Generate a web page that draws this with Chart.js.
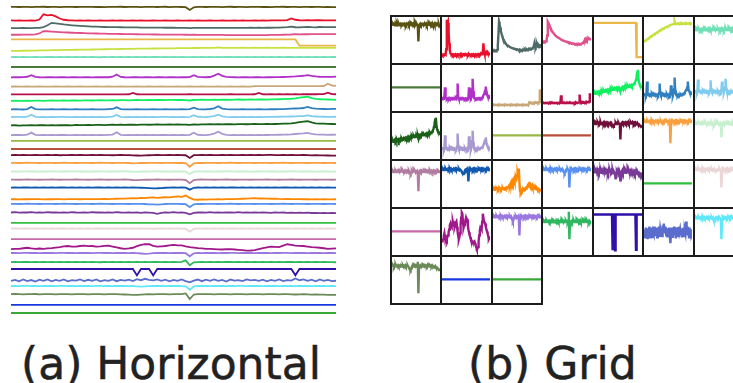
<!DOCTYPE html>
<html><head><meta charset="utf-8">
<script src="https://cdn.jsdelivr.net/npm/chart.js@4.4.0/dist/chart.umd.min.js"></script>
<style>
html,body{margin:0;padding:0;background:#fff;width:733px;height:383px;overflow:hidden;position:relative}
#horiz{position:absolute;left:6px;top:0}
.cell{position:absolute;box-sizing:border-box;border:2px solid #1c1c1c;width:52.5px;height:50px;background:#fff}
.cell canvas{display:block}
.cap{position:absolute;font-family:"DejaVu Sans";font-size:44px;line-height:44px;color:#222;white-space:nowrap;-webkit-text-stroke:0.5px #222}
</style></head><body>
<canvas id="horiz" width="335" height="320"></canvas>
<div id="grid"></div>
<div class="cap" style="left:21px;top:342px">(a) Horizontal</div>
<div class="cap" style="left:468px;top:342px">(b) Grid</div>
<script>
// ─── DATA (normalised 0..1, 81 samples unless flat) ─────────────────────────
const COLORS=['#5a5212','#e8102a','#4f6b66','#e0508a','#eab84a','#c8e040','#70e0b8','#4a7a3a',
  '#b030c8','#c8a878','#b8104a','#10f060','#3080c0','#80ccee','#1a6018','#a89ad0',
  '#98b848','#b8503a','#70103a','#f8a040','#c8f0d0','#b07ca0','#1058b0','#ff8800',
  '#5890f0','#7a3a98','#30c040','#ead6d6','#c868a8','#a0188a','#9a78e0','#30b860',
  '#3010a8','#5a6ccc','#60e8f8','#6a8a58','#1838e0','#38a838'];

const S0=[.88,.90,.87,.90,.89,.86,.90,.88,.91,.87, .89,.90,.86,.89,.90,.88,.87,.90,.89,.88,
  .90,.87,.88,.86,.90,.88,.89,.91,.87,.90, .88,.89,.86,.90,.88,.90,.87,.89,.91,.86,
  .88,.90,.87,.84,.45,.82,.88,.90,.87,.89, .90,.88,.86,.89,.91,.87,.88,.90,.86,.89,
  .88,.90,.87,.89,.86,.90,.88,.91,.87,.89, .90,.86,.88,.89,.87,.90,.88,.86,.89,.84, .86];
const S1=[.12,.10,.12,.11,.10,.12,.11,.25,1.0,.85, .92,.70,.40,.22,.15,.13,.11,.12,.10,.12,
  .11,.10,.12,.10,.11,.12,.10,.12,.11,.10, .12,.10,.13,.11,.10,.12,.11,.10,.12,.11,
  .10,.12,.11,.10,.13,.10,.12,.11,.10,.12, .11,.10,.12,.10,.11,.12,.10,.12,.11,.10,
  .12,.10,.12,.11,.13,.12,.14,.13,.18,.40, .22,.15,.13,.16,.14,.18,.15,.13,.14,.12, .12];
const S2=[.20,.21,.20,.22,.21,.20,.22,.24,.35,.60, .95,.88,.80,.72,.66,.60,.55,.51,.48,.45,
  .42,.40,.38,.36,.35,.34,.33,.32,.31,.30, .29,.29,.28,.28,.27,.27,.26,.26,.25,.25,
  .25,.24,.24,.24,.20,.24,.23,.23,.22,.23, .22,.23,.22,.24,.22,.23,.24,.22,.23,.25,
  .24,.25,.24,.26,.25,.27,.28,.30,.33,.40, .32,.30,.35,.38,.33,.31,.36,.34,.33,.35, .34];
const S3=[.42,.43,.42,.44,.43,.45,.47,.60,.95,.92, .88,.84,.80,.77,.74,.71,.69,.67,.65,.63,
  .61,.60,.58,.57,.56,.55,.54,.53,.52,.51, .50,.49,.48,.48,.47,.46,.46,.45,.45,.44,
  .44,.43,.43,.42,.40,.42,.41,.41,.40,.40, .40,.39,.39,.38,.38,.38,.37,.37,.38,.37,
  .37,.38,.37,.38,.39,.40,.41,.42,.44,.46, .50,.48,.52,.49,.51,.50,.52,.50,.51,.50, .50];
const S4=[.92,.92,.92,.92,.92,.92,.92,.92,.92,.92, .92,.92,.92,.92,.92,.92,.92,.92,.92,.92,
  .92,.92,.92,.92,.92,.92,.92,.92,.92,.92, .92,.92,.92,.92,.92,.92,.92,.92,.92,.92,
  .92,.92,.92,.92,.92,.92,.92,.92,.92,.92, .92,.92,.92,.92,.92,.92,.92,.92,.92,.92,
  .92,.92,.92,.92,.92,.92,.92,.92,.92,.92, .92,.05,.05,.05,.05,.05,.05,.05,.05,.05, .05];
const S5=[.45,.46,.47,.48,.49,.50,.51,.52,.53,.54, .56,.57,.58,.59,.60,.61,.62,.63,.64,.65,
  .66,.67,.68,.69,.70,.71,.72,.73,.74,.75, .76,.77,.77,.78,.79,.80,.80,.81,.82,.83,
  .83,.84,.85,.85,.86,.87,.87,.88,.88,.89, .89,.95,.90,.90,.89,.90,.90,.91,.90,.90,
  .91,.90,.90,.91,.90,.90,.90,.91,.90,.90, .90,.91,.90,.90,.90,.91,.90,.90,.91,.90, .90];
const S6=[.74,.76,.73,.77,.75,.74,.78,.75,.73,.76, .77,.74,.76,.75,.78,.74,.76,.73,.77,.75,
  .76,.74,.72,.77,.75,.78,.74,.76,.75,.77, .74,.78,.75,.76,.73,.77,.76,.74,.78,.75,
  .76,.73,.77,.75,.74,.78,.75,.76,.73,.77, .75,.78,.74,.76,.77,.74,.78,.75,.76,.73,
  .77,.75,.78,.74,.76,.75,.77,.74,.78,.76, .75,.77,.74,.78,.75,.76,.73,.77,.75,.78, .76];
const S7=[.5,.5];
const S8=[.20,.22,.21,.23,.28,.50,.26,.21,.20,.22, .21,.20,.23,.21,.20,.22,.21,.20,.22,.21,
  .20,.22,.21,.23,.21,.28,.60,.25,.21,.20, .22,.21,.20,.22,.21,.20,.22,.21,.20,.22,
  .21,.20,.22,.21,.23,.50,.26,.22,.21,.24, .45,.72,.40,.26,.22,.21,.20,.22,.21,.20,
  .22,.21,.20,.22,.21,.23,.22,.24,.26,.30, .33,.38,.42,.52,.40,.32,.28,.26,.25,.27, .30];
const S9=[.05,.06,.05,.05,.06,.05,.05,.06,.05,.05, .05,.06,.05,.05,.06,.05,.05,.06,.05,.05,
  .05,.06,.05,.05,.06,.05,.05,.06,.05,.05, .05,.06,.05,.05,.06,.05,.05,.06,.05,.05,
  .05,.06,.05,.05,.06,.05,.05,.06,.05,.05, .05,.06,.05,.05,.06,.05,.05,.06,.05,.05,
  .10,.11,.10,.11,.10,.11,.10,.11,.10,.11, .10,.11,.10,.11,.10,.12,.11,.13,.45,.20, .14];
const S10=[.10,.11,.10,.10,.11,.10,.10,.11,.10,.10, .11,.10,.10,.11,.10,.10,.11,.10,.10,.11,
  .10,.10,.11,.10,.10,.11,.10,.10,.11,.12, .30,.12,.10,.11,.10,.10,.11,.10,.10,.11,
  .10,.11,.10,.10,.12,.10,.11,.10,.10,.11, .10,.10,.11,.10,.12,.10,.11,.10,.10,.11,
  .12,.32,.12,.11,.12,.11,.12,.11,.12,.11, .12,.11,.12,.13,.12,.12,.13,.14,.35,.15, .12];
const S11=[.35,.37,.34,.36,.38,.35,.37,.39,.36,.38, .40,.37,.39,.41,.38,.40,.42,.39,.41,.43,
  .40,.42,.44,.41,.43,.45,.42,.44,.46,.43, .45,.47,.44,.46,.48,.45,.47,.49,.46,.48,
  .50,.47,.49,.46,.40,.47,.49,.51,.48,.50, .52,.49,.51,.53,.50,.52,.54,.51,.53,.55,
  .52,.54,.56,.53,.55,.57,.58,.60,.62,.65, .70,.80,.88,.95,.75,.62,.58,.55,.54,.52, .50];
const S12=[.30,.32,.31,.29,.35,.65,.34,.30,.31,.29, .32,.30,.31,.33,.30,.29,.32,.30,.31,.29,
  .32,.30,.31,.29,.33,.36,.60,.34,.30,.31, .29,.32,.30,.31,.29,.32,.30,.31,.33,.30,
  .31,.29,.32,.30,.33,.55,.34,.31,.30,.36, .45,.75,.42,.33,.30,.31,.29,.32,.30,.31,
  .29,.32,.30,.31,.33,.32,.34,.35,.37,.40, .43,.45,.50,.65,.48,.42,.38,.36,.35,.37, .38];
const S13=[.38,.40,.39,.37,.43,.70,.41,.38,.39,.37, .40,.38,.39,.41,.38,.37,.40,.38,.39,.37,
  .40,.38,.39,.37,.41,.44,.68,.41,.38,.39, .37,.40,.38,.39,.37,.40,.38,.39,.41,.38,
  .39,.37,.40,.38,.41,.65,.42,.39,.38,.44, .50,.72,.48,.41,.38,.39,.37,.40,.38,.39,
  .37,.40,.38,.39,.41,.40,.42,.43,.44,.46, .48,.50,.52,.62,.50,.46,.43,.42,.41,.40, .42];
const S14=[.35,.38,.34,.37,.36,.39,.35,.38,.40,.37, .39,.36,.40,.38,.41,.37,.42,.39,.41,.43,
  .40,.42,.44,.41,.43,.45,.42,.46,.43,.45, .47,.44,.46,.48,.45,.47,.49,.46,.48,.50,
  .47,.49,.46,.48,.42,.50,.48,.51,.49,.52, .50,.53,.51,.54,.52,.50,.53,.55,.52,.54,
  .56,.53,.55,.57,.54,.56,.58,.60,.62,.66, .72,.82,.90,.95,.78,.66,.62,.60,.58,.56, .55];
const S15=[.15,.17,.16,.14,.20,.50,.19,.15,.16,.14, .17,.15,.16,.18,.15,.14,.17,.15,.16,.14,
  .17,.15,.16,.14,.18,.21,.55,.19,.15,.16, .14,.17,.15,.16,.14,.17,.15,.16,.18,.15,
  .16,.14,.17,.15,.18,.48,.19,.16,.15,.22, .35,.62,.32,.18,.15,.16,.14,.17,.15,.16,
  .14,.17,.15,.16,.18,.17,.19,.20,.22,.25, .30,.35,.38,.45,.32,.26,.22,.20,.18,.19, .20];
const S16=[.5,.5];
const S17=[.5,.5];
const S18=[.80,.82,.79,.83,.81,.80,.84,.81,.79,.82, .80,.83,.78,.81,.80,.82,.79,.83,.80,.81,
  .83,.80,.82,.79,.81,.78,.80,.82,.79,.81, .76,.74,.72,.75,.78,.80,.82,.79,.81,.83,
  .80,.82,.79,.78,.40,.79,.81,.83,.80,.82, .79,.81,.83,.80,.82,.79,.81,.84,.80,.82,
  .81,.83,.80,.82,.84,.81,.79,.82,.80,.83, .81,.80,.82,.79,.77,.78,.76,.75,.74,.73, .72];
const S19=[.85,.87,.84,.86,.88,.85,.87,.84,.86,.85, .87,.84,.86,.88,.85,.87,.84,.86,.85,.87,
  .84,.86,.88,.85,.87,.84,.86,.85,.87,.84, .80,.82,.86,.84,.87,.85,.86,.84,.87,.85,
  .86,.84,.87,.82,.30,.80,.86,.84,.87,.85, .86,.84,.87,.85,.88,.86,.84,.87,.85,.86,
  .84,.87,.85,.86,.84,.87,.85,.88,.86,.84, .87,.85,.86,.84,.87,.85,.86,.84,.87,.85, .84];
const S20=[.80,.82,.79,.81,.83,.80,.82,.79,.81,.80, .83,.81,.79,.82,.80,.81,.83,.80,.82,.79,
  .81,.80,.83,.81,.79,.82,.80,.81,.83,.80, .78,.76,.80,.82,.79,.81,.83,.80,.82,.79,
  .81,.80,.82,.78,.45,.77,.81,.83,.80,.82, .79,.81,.80,.83,.81,.79,.82,.80,.81,.79,
  .82,.80,.81,.83,.80,.82,.79,.81,.80,.83, .81,.79,.82,.80,.81,.79,.82,.80,.81,.79, .80];
const S21=[.80,.82,.79,.81,.83,.80,.82,.79,.81,.80, .83,.81,.79,.82,.80,.81,.83,.80,.82,.79,
  .81,.80,.83,.81,.79,.82,.80,.81,.83,.80, .76,.74,.78,.82,.79,.81,.83,.80,.82,.79,
  .81,.80,.82,.76,.30,.75,.81,.83,.80,.82, .79,.81,.80,.83,.81,.79,.82,.80,.81,.79,
  .82,.80,.81,.83,.80,.82,.79,.81,.80,.83, .81,.79,.82,.80,.81,.79,.82,.80,.81,.79, .80];
const S22=[.85,.87,.84,.86,.88,.85,.87,.84,.86,.85, .87,.84,.86,.88,.85,.87,.84,.86,.85,.87,
  .84,.86,.88,.85,.87,.84,.86,.85,.87,.84, .86,.85,.82,.79,.76,.74,.75,.78,.82,.85,
  .86,.84,.87,.83,.55,.82,.86,.84,.87,.85, .86,.84,.87,.85,.88,.86,.84,.87,.85,.86,
  .84,.87,.85,.86,.84,.87,.85,.88,.86,.84, .87,.85,.86,.84,.87,.85,.86,.84,.87,.85, .84];
const S23=[.35,.36,.34,.37,.35,.36,.38,.36,.34,.37, .35,.38,.36,.34,.37,.36,.38,.35,.37,.36,
  .38,.36,.37,.39,.38,.40,.42,.45,.43,.48, .52,.48,.55,.50,.58,.62,.56,.60,.66,.62,
  .70,.75,.68,.88,.55,.30,.28,.32,.30,.34, .32,.35,.33,.36,.38,.36,.40,.42,.45,.48,
  .50,.46,.48,.44,.42,.45,.40,.38,.40,.37, .36,.38,.35,.37,.34,.36,.33,.35,.34,.33, .35];
const S24=[.85,.87,.84,.86,.88,.85,.87,.84,.86,.85, .87,.84,.86,.88,.85,.87,.84,.86,.85,.87,
  .84,.86,.88,.85,.87,.84,.86,.85,.87,.84, .86,.85,.87,.84,.80,.78,.76,.80,.84,.86,
  .85,.87,.84,.82,.40,.80,.86,.84,.87,.85, .86,.84,.87,.85,.88,.86,.84,.87,.85,.86,
  .84,.87,.85,.86,.84,.87,.85,.88,.86,.84, .87,.85,.86,.84,.87,.85,.86,.84,.87,.85, .84];
const S25=[.80,.84,.78,.83,.80,.85,.79,.82,.78,.84, .80,.83,.77,.82,.79,.84,.80,.78,.83,.79,
  .84,.80,.82,.77,.83,.79,.85,.80,.78,.82, .79,.83,.76,.81,.78,.74,.60,.76,.82,.79,
  .84,.78,.82,.76,.55,.74,.80,.83,.78,.84, .79,.82,.77,.83,.80,.78,.84,.79,.82,.77,
  .81,.78,.83,.79,.76,.81,.77,.80,.75,.79, .76,.78,.74,.77,.73,.76,.72,.74,.71,.73, .70];
const S26=[.5,.5];
const S27=[.85,.87,.84,.86,.88,.85,.87,.84,.86,.85, .87,.84,.86,.88,.85,.87,.84,.86,.85,.87,
  .84,.86,.88,.85,.87,.84,.86,.85,.87,.84, .86,.85,.87,.84,.83,.82,.84,.86,.85,.87,
  .85,.87,.84,.82,.40,.80,.86,.84,.87,.85, .86,.84,.87,.85,.88,.86,.84,.87,.85,.86,
  .84,.87,.85,.86,.84,.87,.85,.88,.86,.84, .87,.85,.86,.84,.87,.85,.86,.84,.87,.85, .84];
const S28=[.5,.5];
const S29=[.25,.28,.30,.38,.45,.35,.30,.34,.30,.36, .40,.48,.55,.66,.70,.62,.60,.70,.75,.68,
  .70,.60,.65,.72,.75,.62,.50,.38,.30,.36, .45,.68,.85,.98,.95,.72,.60,.66,.70,.78,
  .85,.80,.80,.65,.55,.48,.40,.36,.30,.28, .25,.22,.20,.24,.25,.20,.15,.10,.05,.06,
  .10,.25,.40,.52,.60,.58,.55,.75,.95,.85, .75,.72,.70,.62,.55,.50,.45,.38,.30,.33, .35];
const S30=[.87,.89,.86,.88,.90,.87,.89,.86,.88,.87, .89,.86,.88,.90,.87,.89,.86,.88,.87,.89,
  .86,.88,.90,.87,.89,.86,.88,.87,.89,.86, .88,.84,.80,.75,.78,.84,.88,.87,.89,.86,
  .88,.87,.89,.84,.40,.82,.88,.86,.89,.87, .88,.86,.89,.87,.90,.88,.86,.89,.87,.88,
  .86,.89,.87,.88,.86,.89,.87,.90,.88,.86, .89,.87,.88,.86,.89,.87,.88,.86,.89,.87, .86];
const S31=[.75,.77,.74,.76,.78,.75,.77,.74,.76,.75, .77,.74,.76,.75,.78,.74,.76,.73,.77,.75,
  .76,.74,.72,.77,.75,.78,.74,.76,.75,.77, .74,.78,.75,.76,.73,.77,.76,.74,.78,.75,
  .76,.73,.77,1.0,.30,.72,.75,.76,.73,.77, .75,.78,.74,.76,.77,.74,.78,.75,.76,.73,
  .77,.75,.78,.74,.76,.75,.77,.74,.78,.76, .75,.77,.74,.78,.75,.76,.73,.77,.75,.73, .72];
const S32=[.93,.93,.93,.93,.93,.93,.93,.93,.93,.93, .93,.93,.93,.93,.93,.93,.93,.93,.93,.93,
  .93,.93,.93,.93,.93,.93,.93,.93,.93,.93, .93,.02,.93,.93,.93,.02,.93,.93,.93,.93,
  .93,.93,.93,.93,.93,.93,.93,.93,.93,.93, .93,.93,.93,.93,.93,.93,.93,.93,.93,.93,
  .93,.93,.93,.93,.93,.93,.93,.93,.93,.93, .03,.93,.93,.93,.93,.93,.93,.93,.93,.93, .93];
const S33=[.40,.55,.35,.60,.38,.52,.30,.58,.42,.62, .35,.55,.40,.60,.33,.50,.45,.62,.38,.56,
  .42,.60,.35,.52,.40,.62,.36,.55,.44,.58, .38,.65,.50,.70,.55,.48,.62,.40,.58,.35,
  .55,.42,.60,.38,.20,.45,.60,.36,.58,.42, .62,.40,.55,.32,.60,.45,.52,.38,.62,.48,
  .55,.40,.58,.35,.55,.42,.60,.38,.52,.45, .75,.50,.62,.40,.58,.35,.60,.42,.55,.38, .42];
const S34=[.84,.86,.83,.85,.87,.84,.86,.83,.85,.84, .86,.83,.85,.87,.84,.86,.83,.85,.84,.86,
  .83,.85,.87,.84,.86,.83,.85,.84,.86,.83, .85,.80,.76,.79,.84,.86,.84,.85,.83,.86,
  .84,.85,.83,.80,.30,.78,.86,.84,.85,.83, .86,.84,.85,.83,.86,.84,.87,.85,.83,.86,
  .84,.85,.83,.86,.84,.85,.83,.86,.84,.85, .83,.86,.84,.85,.83,.86,.84,.85,.83,.84, .83];
const S35=[.85,.87,.84,.82,.86,.84,.87,.83,.85,.84, .86,.83,.85,.84,.86,.83,.85,.84,.86,.83,
  .85,.84,.86,.83,.85,.84,.86,.83,.80,.78, .76,.74,.78,.82,.85,.83,.86,.84,.85,.83,
  .86,.84,.85,.95,.15,.80,.84,.86,.84,.85, .83,.86,.84,.85,.83,.86,.84,.85,.83,.86,
  .84,.85,.83,.86,.84,.85,.83,.86,.84,.82, .80,.82,.84,.81,.79,.80,.78,.77,.76,.75, .74];
const S36=[.5,.5];
const S37=[.5,.5];

const SERIES=[S0,S1,S2,S3,S4,S5,S6,S7,S8,S9,S10,S11,S12,S13,S14,S15,S16,S17,S18,S19,
  S20,S21,S22,S23,S24,S25,S26,S27,S28,S29,S30,S31,S32,S33,S34,S35,S36,S37];

// ─── HORIZONTAL STACK ────────────────────────────────────────────────────────
const AMP=0.854; // band height, in units of row spacing
const pts=(vals,off)=>vals.map((v,j)=>({x:j/(vals.length-1),y:v*AMP-off}));
const hidden={display:false};

new Chart(document.getElementById('horiz'),{
  type:'line',
  data:{datasets:SERIES.map((s,i)=>({data:pts(s,i),borderColor:COLORS[i],borderWidth:1.8,pointRadius:0,fill:false,tension:0,clip:false}))},
  options:{
    responsive:false,animation:false,events:[],
    layout:{padding:{left:5,right:5,top:0,bottom:0}},
    plugins:{legend:hidden,tooltip:{enabled:false}},
    scales:{x:{type:'linear',min:0,max:1,display:false},y:{min:-37.426,max:1.598,display:false}}
  }
});

// ─── GRID OF SMALL MULTIPLES ─────────────────────────────────────────────────
const grid=document.getElementById('grid');
SERIES.forEach((s,i)=>{
  const r=Math.floor(i/7), c=i%7;
  const cell=document.createElement('div');
  cell.className='cell';
  cell.style.left=(389.5+c*50.5)+'px';
  cell.style.top=(15+r*48)+'px';
  const cv=document.createElement('canvas');
  cv.width=48; cv.height=46;
  cell.appendChild(cv); grid.appendChild(cell);
  new Chart(cv,{
    type:'line',
    data:{datasets:[{data:s.map((v,j)=>({x:j/(s.length-1),y:v})),borderColor:COLORS[i],borderWidth:2.4,pointRadius:0,fill:false,tension:0}]},
    options:{
      responsive:false,animation:false,events:[],
      layout:{padding:0},
      plugins:{legend:hidden,tooltip:{enabled:false}},
      scales:{x:{type:'linear',min:0,max:1,display:false},y:{min:-0.1,max:1.07,display:false}}
    }
  });
});
</script>
</body></html>
